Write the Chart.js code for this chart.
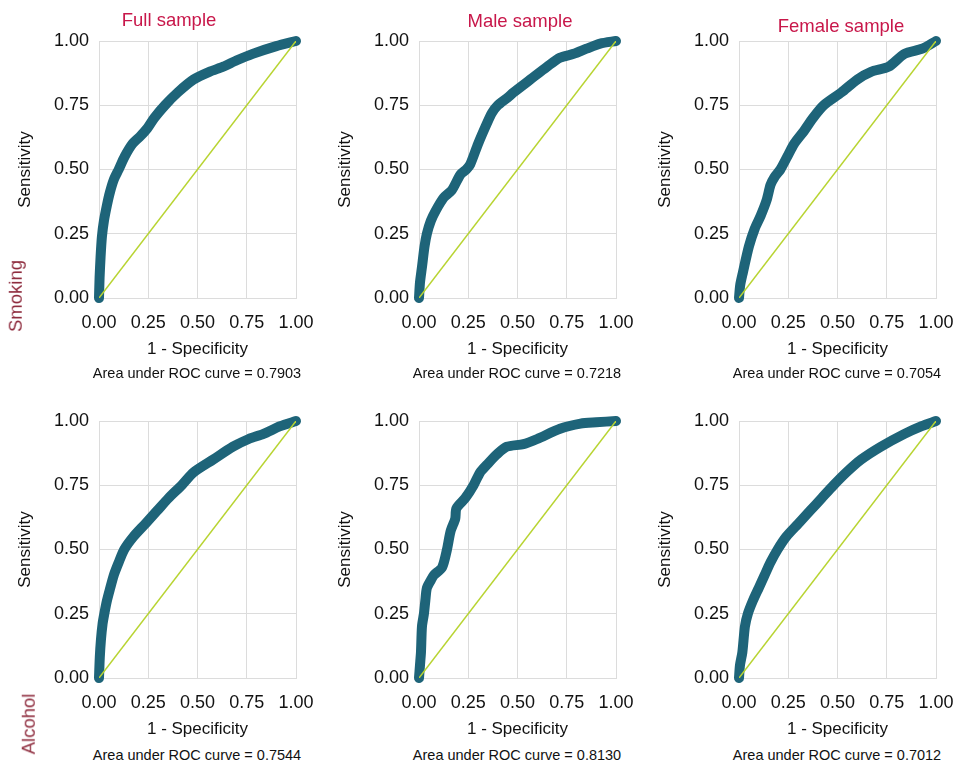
<!DOCTYPE html>
<html>
<head>
<meta charset="utf-8">
<script src="https://cdn.jsdelivr.net/npm/chart.js@4.4.1/dist/chart.umd.min.js"></script>
<style>
body{margin:0;background:#fff;width:957px;height:772px;position:relative;overflow:hidden;font-family:"Liberation Sans",Arial,sans-serif}
canvas{position:absolute}
.t{position:absolute;white-space:nowrap;transform:translate(-50%,-50%);line-height:1}
.col{color:#c8174a;font-size:18.5px}
.auc{color:#111;font-size:14.5px}
.row{color:#8e2b3d;font-size:18.5px;transform:translate(-50%,-50%) rotate(-90deg)}
</style>
</head>
<body>
<canvas id="c1" width="317" height="364" style="left:0;top:0"></canvas>
<canvas id="c2" width="317" height="364" style="left:320px;top:0"></canvas>
<canvas id="c3" width="317" height="364" style="left:640px;top:0"></canvas>
<canvas id="c4" width="317" height="364" style="left:0;top:380px"></canvas>
<canvas id="c5" width="317" height="364" style="left:320px;top:380px"></canvas>
<canvas id="c6" width="317" height="364" style="left:640px;top:380px"></canvas>

<div class="t col" style="left:169px;top:20px">Full sample</div>
<div class="t col" style="left:520px;top:21px">Male sample</div>
<div class="t col" style="left:841px;top:26px">Female sample</div>

<div class="t auc" style="left:197px;top:373px">Area under ROC curve = 0.7903</div>
<div class="t auc" style="left:517px;top:373px">Area under ROC curve = 0.7218</div>
<div class="t auc" style="left:837px;top:373px">Area under ROC curve = 0.7054</div>
<div class="t auc" style="left:197px;top:755px">Area under ROC curve = 0.7544</div>
<div class="t auc" style="left:517px;top:755px">Area under ROC curve = 0.8130</div>
<div class="t auc" style="left:837px;top:755px">Area under ROC curve = 0.7012</div>

<div class="t row" style="left:16px;top:296px">Smoking</div>
<div class="t row" style="left:29px;top:724px">Alcohol</div>

<script>
const tickLabels = ['0.00', '0.25', '0.50', '0.75', '1.00'];
const chanceLine = [0, 1];

// smoking
const fullSmokeFpr = [0, 0.003, 0.008, 0.015, 0.025, 0.04, 0.055, 0.075, 0.10, 0.13, 0.17, 0.21, 0.245, 0.28, 0.335, 0.40, 0.48, 0.56, 0.63, 0.70, 0.78, 0.90, 1.0];
const fullSmokeTpr = [0, 0.08, 0.16, 0.24, 0.30, 0.36, 0.41, 0.46, 0.50, 0.55, 0.60, 0.63, 0.66, 0.70, 0.75, 0.80, 0.85, 0.88, 0.90, 0.925, 0.95, 0.98, 1.0];
const maleSmokeFpr = [0, 0.005, 0.015, 0.028, 0.04, 0.06, 0.085, 0.125, 0.167, 0.21, 0.24, 0.26, 0.30, 0.345, 0.37, 0.40, 0.45, 0.48, 0.565, 0.65, 0.715, 0.785, 0.85, 0.92, 1.0];
const maleSmokeTpr = [0, 0.06, 0.12, 0.20, 0.25, 0.30, 0.34, 0.39, 0.42, 0.48, 0.50, 0.52, 0.60, 0.68, 0.72, 0.75, 0.78, 0.80, 0.85, 0.90, 0.935, 0.95, 0.97, 0.99, 1.0];
const femaleSmokeFpr = [0, 0.006, 0.02, 0.05, 0.08, 0.11, 0.14, 0.16, 0.18, 0.21, 0.245, 0.28, 0.33, 0.375, 0.43, 0.52, 0.60, 0.67, 0.76, 0.84, 0.93, 1.0];
const femaleSmokeTpr = [0, 0.05, 0.10, 0.20, 0.27, 0.32, 0.38, 0.44, 0.47, 0.50, 0.55, 0.60, 0.65, 0.70, 0.75, 0.80, 0.85, 0.88, 0.90, 0.95, 0.97, 1.0];

// alcohol
const fullAlcFpr = [0, 0.004, 0.01, 0.018, 0.027, 0.04, 0.057, 0.075, 0.10, 0.128, 0.175, 0.235, 0.294, 0.353, 0.42, 0.48, 0.58, 0.68, 0.76, 0.835, 0.92, 1.0];
const fullAlcTpr = [0, 0.08, 0.15, 0.21, 0.25, 0.30, 0.35, 0.40, 0.45, 0.50, 0.55, 0.60, 0.65, 0.70, 0.75, 0.80, 0.85, 0.90, 0.93, 0.95, 0.98, 1.0];
const maleAlcFpr = [0, 0.005, 0.01, 0.015, 0.025, 0.032, 0.04, 0.06, 0.075, 0.117, 0.142, 0.16, 0.184, 0.19, 0.235, 0.277, 0.31, 0.345, 0.395, 0.446, 0.53, 0.60, 0.716, 0.82, 0.90, 1.0];
const maleAlcTpr = [0, 0.05, 0.10, 0.20, 0.25, 0.30, 0.35, 0.38, 0.40, 0.43, 0.50, 0.57, 0.62, 0.66, 0.70, 0.75, 0.80, 0.83, 0.87, 0.90, 0.91, 0.93, 0.97, 0.99, 0.995, 1.0];
const femaleAlcFpr = [0, 0.005, 0.017, 0.03, 0.045, 0.07, 0.10, 0.13, 0.16, 0.196, 0.24, 0.30, 0.36, 0.42, 0.48, 0.545, 0.62, 0.72, 0.84, 0.927, 1.0];
const femaleAlcTpr = [0, 0.05, 0.10, 0.20, 0.25, 0.30, 0.35, 0.40, 0.45, 0.50, 0.55, 0.60, 0.65, 0.70, 0.75, 0.80, 0.85, 0.90, 0.95, 0.98, 1.0];

const txt = '#111';
const gridCol = '#dcdcdc';

function rocChart(id, fpr, tpr) {
  new Chart(document.getElementById(id), {
    type: 'scatter',
    data: {
      datasets: [
        {
          data: chanceLine.map(v => ({x: v, y: v})),
          showLine: true,
          borderColor: '#b8d432',
          borderWidth: 1.5,
          pointRadius: 0
        },
        {
          data: fpr.map((x, i) => ({x: x, y: tpr[i]})),
          showLine: true,
          borderColor: '#1e6479',
          borderWidth: 10,
          borderCapStyle: 'round',
          borderJoinStyle: 'round',
          tension: 0.25,
          pointRadius: 0,
          clip: false
        }
      ]
    },
    options: {
      responsive: false,
      animation: false,
      layout: {padding: {top: 41, left: 11, right: 21, bottom: 0}},
      plugins: {legend: {display: false}, tooltip: {enabled: false}},
      scales: {
        x: {
          type: 'linear', min: 0, max: 1,
          ticks: {stepSize: 0.25, callback: (v, i) => tickLabels[i], padding: 14, color: txt,
                  font: {size: 18}, maxRotation: 0, autoSkip: false},
          grid: {color: gridCol, drawTicks: false},
          border: {color: gridCol},
          title: {display: true, text: '1 - Specificity', color: txt, font: {size: 17}},
          // fixed box so every panel gets the same plot area
          afterFit: s => { s.height = 66; s.paddingLeft = 0; s.paddingRight = 0; }
        },
        y: {
          type: 'linear', min: 0, max: 1,
          ticks: {stepSize: 0.25, callback: (v, i) => tickLabels[i], padding: 10, color: txt,
                  font: {size: 18}, autoSkip: false},
          grid: {color: gridCol, drawTicks: false},
          border: {color: gridCol},
          title: {display: true, text: 'Sensitivity', color: txt, font: {size: 17}},
          afterFit: s => { s.width = 88; s.paddingTop = 0; s.paddingBottom = 0; }
        }
      }
    }
  });
}

Chart.defaults.font.family = '"Liberation Sans", Arial, sans-serif';
rocChart('c1', fullSmokeFpr, fullSmokeTpr);
rocChart('c2', maleSmokeFpr, maleSmokeTpr);
rocChart('c3', femaleSmokeFpr, femaleSmokeTpr);
rocChart('c4', fullAlcFpr, fullAlcTpr);
rocChart('c5', maleAlcFpr, maleAlcTpr);
rocChart('c6', femaleAlcFpr, femaleAlcTpr);
</script>
</body>
</html>
